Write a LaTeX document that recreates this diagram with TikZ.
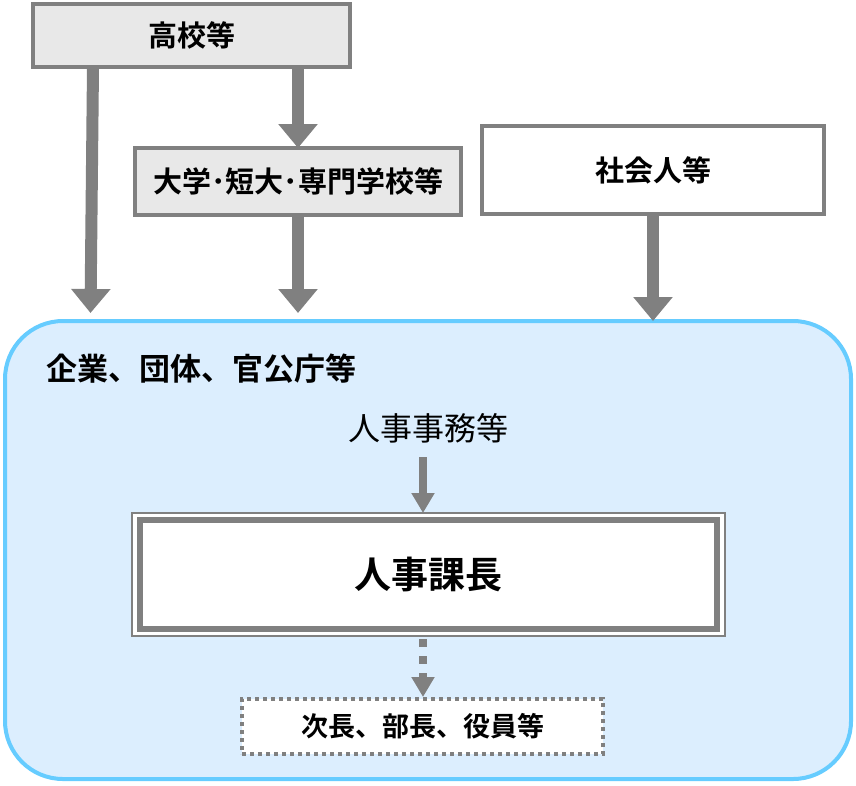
\documentclass[tikz,border=0pt]{standalone}
\usepackage{fontspec}
\newfontfamily\jp{Noto Sans CJK JP}[BoldFont={Noto Sans CJK JP Bold}]
\usetikzlibrary{arrows.meta}
\definecolor{gr}{HTML}{808080}
\definecolor{boxfill}{HTML}{E8E8E8}
\definecolor{orgfill}{HTML}{DCEEFE}
\definecolor{orgline}{HTML}{66CCFF}
\begin{document}
\begin{tikzpicture}[x=1pt,y=-1pt,
  every node/.style={font=\jp, inner sep=0pt, outer sep=0pt},
  srcbox/.style={draw=gr, line width=4pt, fill=boxfill, font=\jp\bfseries\fontsize{29}{32}\selectfont},
  bigarrow/.style={draw=gr, line width=12pt, -{Triangle[width=38pt,length=24pt]}},
  smallarrow/.style={draw=gr, line width=8pt, -{Triangle[width=22pt,length=20pt]}},
]
\useasboundingbox (0,0) rectangle (856,785);
% organisation box
\node[draw=orgline, fill=orgfill, line width=4pt, rounded corners=58pt,
      minimum width=846pt, minimum height=458pt] (org) at (428,550) {};
\node[anchor=west, font=\jp\bfseries\fontsize{31}{34}\selectfont] (orgt) at (46,369) {企業、団体、官公庁等};
% sources
\node[srcbox, minimum width=317pt, minimum height=63pt] (hs) at (191.5,35.5) {高校等};
\node[srcbox, minimum width=326pt, minimum height=67pt] (dg) at (298,181.5) {大学･短大･専門学校等};
\node[srcbox, fill=white, minimum width=342pt, minimum height=88pt] (sk) at (653,170) {社会人等};
% arrows from sources
\coordinate (t1) at (90.5,313);
\coordinate (t2) at (298,313);
\draw[bigarrow] ([xshift=-98.5pt]hs.south) -- (t1);
\draw[bigarrow] (hs.south -| dg.north) -- (dg.north);
\draw[bigarrow] (dg.south) -- (t2);
\draw[bigarrow] (sk.south) -- (org.north -| sk.south);
% inside
\node[font=\jp\fontsize{32}{35}\selectfont] (jm) at (428,428) {人事事務等};
\node[draw=gr, line width=1.3pt, fill=white, minimum width=593pt, minimum height=123pt] (kco) at (428.5,574.5) {};
\node[draw=gr, line width=6pt, fill=white, minimum width=577pt, minimum height=109pt,
      font=\jp\bfseries\fontsize{37}{40}\selectfont] (kc) at (428.5,574.5) {人事課長};
\node[draw=gr, line width=3.5pt, dash pattern=on 4pt off 4pt, fill=white,
      minimum width=361pt, minimum height=55pt,
      font=\jp\bfseries\fontsize{27}{30}\selectfont] (jb) at (422.5,726.5) {次長、部長、役員等};
\coordinate (j1) at (423,457);
\draw[smallarrow] (j1) -- (j1 |- kco.north);
\coordinate (j2) at (423,639);
\draw[smallarrow, dash pattern=on 8pt off 9pt] (j2) -- ([yshift=2pt]j2 |- jb.north);
\end{tikzpicture}
\end{document}
